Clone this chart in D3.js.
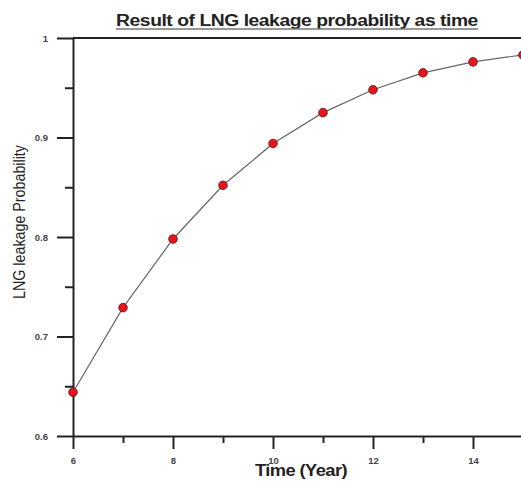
<!doctype html>
<html lang="en">
<head>
<meta charset="UTF-8">
<title>Result of LNG leakage probability as time</title>
<style>
    body { margin: 0; background: #fff; }
    svg { display: block; font-family: "Liberation Sans", Arial, sans-serif; }
    .tick text { font-weight: bold; fill: #444; }
</style>
</head>
<body>
<svg id="chart" width="521" height="484"></svg>
<script src="https://d3js.org/d3.v7.min.js"></script>
<script>
    const years = [6, 7, 8, 9, 10, 11, 12, 13, 14, 15];
    const probability = [0.644, 0.729, 0.798, 0.852, 0.894, 0.925, 0.948, 0.965, 0.976, 0.983];
    const xTicks = [6, 8, 10, 12, 14];
    const xMinor = [7, 9, 11, 13, 15];
    const yTicks = [0.6, 0.7, 0.8, 0.9, 1];
    const yMinor = [0.65, 0.75, 0.85, 0.95];

    let svg = d3.select("#chart"),
        margin = {top: 38, left: 73, bottom: 48},
        height = +svg.attr("height");

    let x = d3.scaleLinear().domain([6, 15]).range([margin.left, margin.left + 450]);
    let y = d3.scaleLinear().domain([0.6, 1]).range([height - margin.bottom, margin.top]);

    // the source picture is stretched sideways, so squeeze/stretch texts to its widths
    function fitText(sel, cx, cy, width, angle, cross) {
        let w = sel.node().getComputedTextLength();
        sel.attr("transform", "translate(" + cx + "," + cy + ") rotate(" + (angle || 0) + ") scale("
            + (width / w) + "," + (cross || 1) + ")");
    }

    // top frame line
    svg.append("line")
        .attr("x1", margin.left).attr("x2", 521)
        .attr("y1", y(1)).attr("y2", y(1))
        .attr("stroke", "#222").attr("stroke-width", 2);

    // minor ticks
    svg.append("g")
        .attr("transform", "translate(" + margin.left + ",0)")
        .call(d3.axisLeft(y).tickValues(yMinor).tickSize(8).tickFormat(""))
        .call(g => g.select(".domain").remove())
        .selectAll("line").attr("stroke", "#222").attr("stroke-width", 2);

    svg.append("g")
        .attr("transform", "translate(0," + y(0.6) + ")")
        .call(d3.axisBottom(x).tickValues(xMinor).tickSize(7).tickFormat(""))
        .call(g => g.select(".domain").remove())
        .selectAll("line").attr("stroke", "#222").attr("stroke-width", 2);

    // y axis
    let yAxis = svg.append("g")
        .attr("transform", "translate(" + margin.left + ",0)")
        .call(d3.axisLeft(y).tickValues(yTicks).tickSize(16).tickSizeOuter(0).tickPadding(9)
            .tickFormat(d => d === 1 ? "1" : d3.format(".1f")(d)))
        .attr("font-size", "9.5px");
    yAxis.selectAll("line, .domain").attr("stroke", "#222").attr("stroke-width", 2);

    // x axis
    let xAxis = svg.append("g")
        .attr("transform", "translate(0," + y(0.6) + ")")
        .call(d3.axisBottom(x).tickValues(xTicks).tickSize(13).tickSizeOuter(0).tickPadding(8))
        .attr("font-size", "9.5px");
    xAxis.selectAll("line, .domain").attr("stroke", "#222").attr("stroke-width", 2);

    // line
    let data = years.map((t, i) => ({t: t, p: probability[i]}));
    svg.append("path")
        .datum(data)
        .attr("fill", "none")
        .attr("stroke", "#666")
        .attr("stroke-width", 1.2)
        .attr("d", d3.line().x(d => x(d.t)).y(d => y(d.p)));

    svg.append("g")
        .selectAll("circle")
        .data(data)
        .enter().append("circle")
        .attr("cx", d => x(d.t))
        .attr("cy", d => y(d.p))
        .attr("r", 4.3)
        .attr("fill", "#e8161c")
        .attr("stroke", "#5a1010")
        .attr("stroke-width", 0.8);

    // title
    let title = svg.append("text")
        .attr("text-anchor", "middle")
        .attr("font-size", "17px")
        .attr("font-weight", "bold")
        .attr("letter-spacing", "-0.4px")
        .attr("fill", "#222")
        .text("Result of LNG leakage probability as time");
    fitText(title, 297, 26, 362);
    svg.append("line")
        .attr("x1", 116).attr("x2", 478)
        .attr("y1", 29).attr("y2", 29)
        .attr("stroke", "#777").attr("stroke-width", 1.6);

    // axis labels
    let xLabel = svg.append("text")
        .attr("text-anchor", "middle")
        .attr("font-size", "16px")
        .attr("font-weight", "bold")
        .attr("letter-spacing", "-0.5px")
        .attr("fill", "#222")
        .text("Time (Year)");
    fitText(xLabel, 301, 476, 92);

    let yLabel = svg.append("text")
        .attr("text-anchor", "middle")
        .attr("font-size", "14.5px")
        .attr("fill", "#222")
        .text("LNG leakage Probability");
    fitText(yLabel, 25, 222, 154, -90, 1.15);
</script>
</body>
</html>
